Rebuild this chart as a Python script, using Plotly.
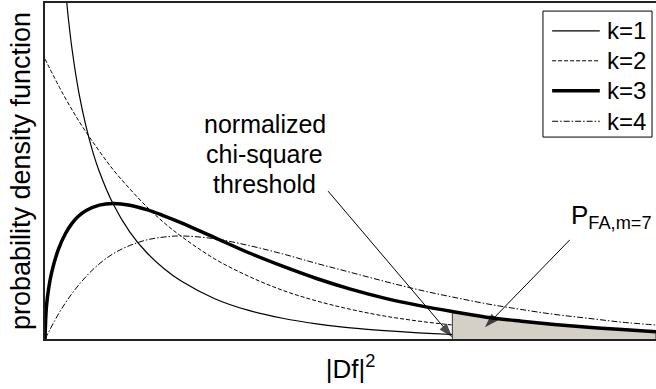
import plotly.graph_objects as go

# --- data ---
x_k1 = [0.3, 0.35, 0.4, 0.5, 0.6, 0.7, 0.8, 1.0, 1.25, 1.5, 1.75, 2.0, 2.5, 3.0, 3.5, 4.0,
        4.5, 5.0, 5.5, 6.0, 6.5, 7.0, 7.5, 8.0, 8.5, 9.0]
y_k1 = [0.627, 0.566, 0.516, 0.439, 0.382, 0.336, 0.299, 0.242, 0.191, 0.154, 0.126, 0.104,
        0.072, 0.051, 0.037, 0.027, 0.020, 0.015, 0.011, 0.008, 0.006, 0.005, 0.003, 0.003,
        0.002, 0.002]

x_k2 = [0.0, 0.25, 0.5, 0.75, 1.0, 1.25, 1.5, 1.75, 2.0, 2.5, 3.0, 3.5, 4.0, 4.5, 5.0, 5.5,
        6.0, 6.5, 7.0, 7.5, 8.0, 8.5, 9.0]
y_k2 = [0.500, 0.441, 0.389, 0.344, 0.303, 0.268, 0.236, 0.208, 0.184, 0.143, 0.112, 0.087,
        0.068, 0.053, 0.041, 0.032, 0.025, 0.019, 0.015, 0.012, 0.009, 0.007, 0.006]

x_k3 = [0.0, 0.02, 0.05, 0.1, 0.2, 0.3, 0.4, 0.5, 0.6, 0.8, 1.0, 1.25, 1.5, 1.75, 2.0, 2.5,
        3.0, 3.5, 4.0, 4.5, 5.0, 5.5, 6.0, 6.5, 7.0, 7.5, 8.0, 8.5, 9.0]
y_k3 = [0.0, 0.056, 0.087, 0.120, 0.161, 0.188, 0.207, 0.220, 0.229, 0.239, 0.242, 0.239,
        0.231, 0.220, 0.208, 0.181, 0.154, 0.130, 0.108, 0.089, 0.073, 0.060, 0.049, 0.039,
        0.032, 0.026, 0.021, 0.017, 0.013]

x_k4 = [0.0, 0.25, 0.5, 0.75, 1.0, 1.25, 1.5, 1.75, 2.0, 2.5, 3.0, 3.5, 4.0, 4.5, 5.0, 5.5,
        6.0, 6.5, 7.0, 7.5, 8.0, 8.5, 9.0]
y_k4 = [0.0, 0.055, 0.097, 0.129, 0.152, 0.167, 0.177, 0.182, 0.184, 0.179, 0.167, 0.152,
        0.135, 0.119, 0.103, 0.088, 0.075, 0.063, 0.053, 0.044, 0.037, 0.030, 0.025]

threshold = 6.0
series_names = ["k=1", "k=2", "k=3", "k=4"]
label_lines = ["normalized", "chi-square", "threshold"]

# annotation arrows (start point -> tip)
arrow_thr_x = [4.17, 6.0]
arrow_thr_y = [0.264, 0.003]
arrow_pfa_x = [7.73, 6.48]
arrow_pfa_y = [0.177, 0.021]

# tail region (false alarm probability) under the k=3 curve beyond the threshold
x_tail = [x for x in x_k3 if x >= threshold]
y_tail = [y for x, y in zip(x_k3, y_k3) if x >= threshold]

FONT = "Liberation Sans, Arial, Helvetica, sans-serif"

styles = [
    dict(color="black", width=1.2, dash="solid"),
    dict(color="black", width=1, dash="4px,2px"),
    dict(color="black", width=3.5, dash="solid"),
    dict(color="black", width=1, dash="6px,2px,1.5px,2px"),
]

fig = go.Figure()

fig.add_trace(go.Scatter(x=x_k1, y=y_k1, mode="lines", name=series_names[0],
                         line=dict(**styles[0], shape="spline"), showlegend=False))
fig.add_trace(go.Scatter(x=x_k2, y=y_k2, mode="lines", name=series_names[1],
                         line=dict(**styles[1], shape="spline"), showlegend=False))
fig.add_trace(go.Scatter(x=[threshold] + x_tail + [x_tail[-1]],
                         y=[0] + y_tail + [0], mode="lines", fill="toself",
                         fillcolor="#d4d0c8", line=dict(color="#333333", width=1),
                         showlegend=False, hoverinfo="skip"))
fig.add_trace(go.Scatter(x=x_k3, y=y_k3, mode="lines", name=series_names[2],
                         line=dict(**styles[2], shape="spline"), showlegend=False))
fig.add_trace(go.Scatter(x=x_k4, y=y_k4, mode="lines", name=series_names[3],
                         line=dict(**styles[3], shape="spline"), showlegend=False))

# arrows as lines with an arrow-head marker at the tip
for ax_, ay_ in [(arrow_thr_x, arrow_thr_y), (arrow_pfa_x, arrow_pfa_y)]:
    fig.add_trace(go.Scatter(
        x=ax_, y=ay_, mode="lines+markers", showlegend=False, hoverinfo="skip",
        line=dict(color="black", width=1),
        marker=dict(symbol=["circle", "arrow"], size=[0, 15], angleref="previous",
                    color="black", line=dict(width=0)),
    ))

fig.update_xaxes(range=[0, 9], showline=True, linecolor="#222222", linewidth=1.5,
                 mirror=True, showticklabels=False, ticks="", showgrid=False,
                 zeroline=False,
                 title=dict(text="|Df|<sup>2</sup>", font=dict(family=FONT, size=26,
                            color="black"), standoff=20))
fig.update_yaxes(range=[0, 0.6], showline=True, linecolor="#222222", linewidth=1.5,
                 mirror=False, showticklabels=False, ticks="", showgrid=False,
                 zeroline=False,
                 title=dict(text="probability density function",
                            font=dict(family=FONT, size=27, color="black"), standoff=5))

# text label for the threshold (three lines)
for txt, yy in zip(label_lines, [0.384, 0.330, 0.277]):
    fig.add_annotation(x=3.24, y=yy, xref="x", yref="y", showarrow=False,
                       text=txt, xanchor="center", yanchor="middle",
                       font=dict(family=FONT, size=25, color="black"))

fig.add_annotation(x=7.72, y=0.218, xref="x", yref="y", showarrow=False,
                   xanchor="left", yanchor="middle",
                   text="P<sub>FA,m=7</sub>",
                   font=dict(family=FONT, size=26, color="black"))

# legend box drawn in paper coordinates
fig.add_shape(type="rect", xref="paper", yref="paper", x0=0.815, x1=0.9935,
              y0=0.601, y1=0.976, line=dict(color="black", width=1),
              fillcolor="white", layer="above")
row_y = [0.917, 0.828, 0.739, 0.648]
for name, st, yy in zip(series_names, styles, row_y):
    fig.add_shape(type="line", xref="paper", yref="paper", x0=0.830, x1=0.908,
                  y0=yy, y1=yy, line=dict(color=st["color"], width=st["width"],
                                          dash=st["dash"]), layer="above")
    fig.add_annotation(x=0.9165, y=yy, xref="paper", yref="paper", showarrow=False,
                       xanchor="left", yanchor="middle", text=name,
                       font=dict(family=FONT, size=24, color="black"))

fig.update_layout(
    width=656, height=389,
    margin=dict(l=45, r=0, t=3, b=50),
    paper_bgcolor="white", plot_bgcolor="white",
    font=dict(family=FONT, size=25, color="black"),
    showlegend=False,
)

fig.write_html("out.html")
